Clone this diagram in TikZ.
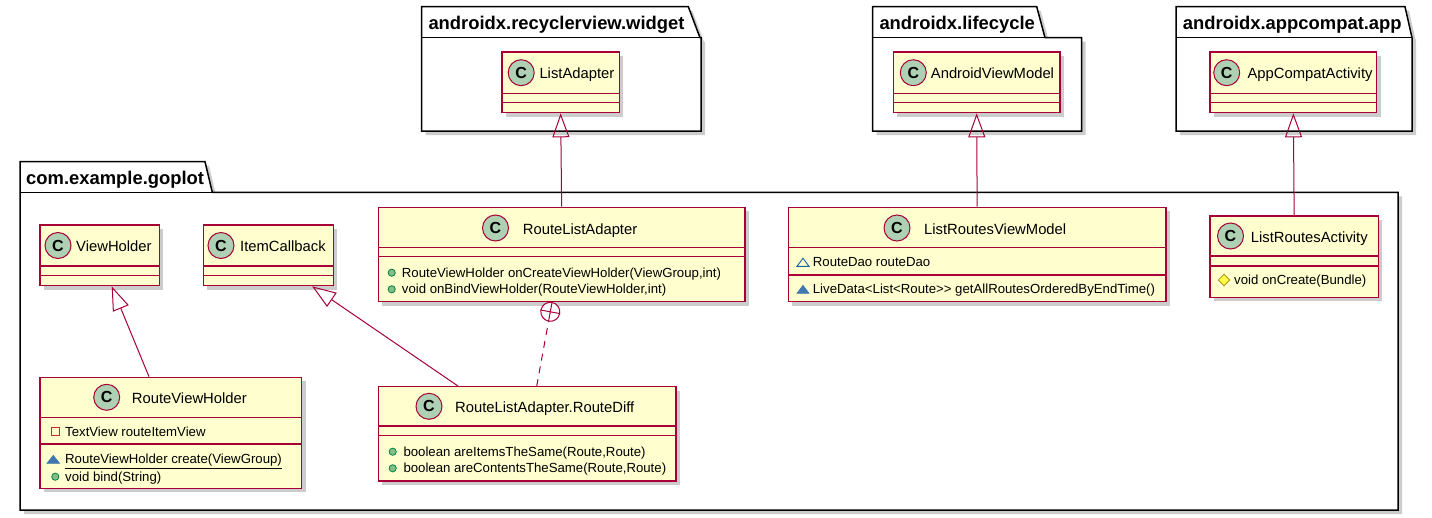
\documentclass[tikz,border=0pt]{standalone}
\usepackage{fontspec}
\setmainfont{Liberation Sans}
\usetikzlibrary{arrows.meta,shadows,fit,calc}

\definecolor{umlred}{HTML}{A80036}
\definecolor{umlfill}{HTML}{FEFECE}
\definecolor{umlgreen}{HTML}{ADD1B2}
\definecolor{pubfill}{HTML}{84BE84}
\definecolor{pubdraw}{HTML}{038048}
\definecolor{privdraw}{HTML}{C82930}
\definecolor{pkgdraw}{HTML}{1963A0}
\definecolor{pkgfill}{HTML}{4177AF}
\definecolor{protfill}{HTML}{FFFF44}
\definecolor{protdraw}{HTML}{B38D22}

\tikzset{
  shade/.style={drop shadow={shadow xshift=4pt,shadow yshift=-4pt,opacity=.2,fill=black}},
  pkg/.style={draw=black,fill=white,line width=1.5pt,line join=miter,shade},
  pkglabel/.style={anchor=base west,inner sep=0pt,font=\bfseries\fontsize{18.4pt}{20pt}\selectfont},
  classbox/.style={draw=umlred,fill=umlfill,line width=1.2pt,inner sep=0pt,shade},
  sep/.style={draw=umlred,line width=1.1pt},
  cicon/.style={circle,draw=umlred,fill=umlgreen,line width=1pt,minimum size=26pt,inner sep=0pt,
    font=\bfseries\fontsize{16pt}{16pt}\selectfont},
  cname/.style={anchor=base west,inner sep=0pt,font=\fontsize{14.8pt}{17pt}\selectfont},
  member/.style={anchor=base west,inner sep=0pt,font=\fontsize{13.2pt}{15pt}\selectfont},
  pubicon/.style={fill=pubfill,draw=pubdraw,line width=.8pt},
  privicon/.style={draw=privdraw,line width=.9pt},
  pkgfield/.style={draw=pkgdraw,line width=.9pt,line join=miter},
  pkgmethod/.style={fill=pkgfill,draw=pkgfill,line width=.6pt},
  proticon/.style={fill=protfill,draw=protdraw,line width=.8pt},
  inherit/.style={draw=umlred,line width=1pt,-{Triangle[open,length=24pt,width=17pt,line width=1pt]}},
  nestcirc/.style={circle,draw=umlred,fill=white,line width=1pt,minimum size=19pt,inner sep=0pt},
  nested/.style={draw=umlred,line width=1pt,dash pattern=on 7pt off 6pt},
}

\begin{document}
\begin{tikzpicture}[x=1pt,y=-1pt]
\useasboundingbox (0,0) rectangle (1432,517);

% packages
\path[pkg] (421.7,6.7) -- (688.3,6.7) -- (700,37.7) -- (701,37.7) -- (701,131) -- (421.7,131) -- cycle;
\draw[black,line width=1.5pt] (421.7,37.7) -- (700,37.7);
\node[pkglabel] (p-rv) at (428.3,29.3) {androidx.recyclerview.widget};

\path[pkg] (872.7,6.7) -- (1036.7,6.7) -- (1045,37.7) -- (1081.7,37.7) -- (1081.7,131) -- (872.7,131) -- cycle;
\draw[black,line width=1.5pt] (872.7,37.7) -- (1045,37.7);
\node[pkglabel] (p-lc) at (879.3,29.3) {androidx.lifecycle};

\path[pkg] (1176,6.7) -- (1405,6.7) -- (1412,37.7) -- (1412,131) -- (1176,131) -- cycle;
\draw[black,line width=1.5pt] (1176,37.7) -- (1412,37.7);
\node[pkglabel] (p-ac) at (1182.7,29.3) {androidx.appcompat.app};

\path[pkg] (20,161.7) -- (205,161.7) -- (212.3,192.3) -- (1398,192.3) -- (1398,510) -- (20,510) -- cycle;
\draw[black,line width=1.5pt] (20,192.3) -- (212.3,192.3);
\node[pkglabel] (p-gp) at (26,184.3) {com.example.goplot};

% outside classes
\node[classbox,fit={(502,52) (619.3,112.7)}] (la) {};
\draw[sep] (la.west |- 0,93.3) -- (la.east |- 0,93.3) (la.west |- 0,102.3) -- (la.east |- 0,102.3);
\node[cicon] (la-c) at (521.2,72.7) {C};
\node[cname] (la-n) at (539.3,78.7) {ListAdapter};

\node[classbox,fit={(893.3,52) (1060,112.7)}] (avm) {};
\draw[sep] (avm.west |- 0,93.3) -- (avm.east |- 0,93.3) (avm.west |- 0,102.3) -- (avm.east |- 0,102.3);
\node[cicon] (avm-c) at (913.3,72.7) {C};
\node[cname] (avm-n) at (930.7,78.7) {AndroidViewModel};

\node[classbox,fit={(1210,52) (1376.7,112.7)}] (aca) {};
\draw[sep] (aca.west |- 0,93.3) -- (aca.east |- 0,93.3) (aca.west |- 0,102.3) -- (aca.east |- 0,102.3);
\node[cicon] (aca-c) at (1226.7,72.7) {C};
\node[cname] (aca-n) at (1247.3,78.7) {AppCompatActivity};

% com.example.goplot
\node[classbox,fit={(40,225) (159.3,285.7)}] (vh) {};
\draw[sep] (vh.west |- 0,266) -- (vh.east |- 0,266) (vh.west |- 0,275.7) -- (vh.east |- 0,275.7);
\node[cicon] (vh-c) at (58,245.5) {C};
\node[cname] (vh-n) at (76,251.5) {ViewHolder};

\node[classbox,fit={(203.3,225) (333.3,285.7)}] (ic) {};
\draw[sep] (ic.west |- 0,266) -- (ic.east |- 0,266) (ic.west |- 0,275.7) -- (ic.east |- 0,275.7);
\node[cicon] (ic-c) at (221,245.5) {C};
\node[cname] (ic-n) at (240,251.5) {ItemCallback};

\node[classbox,fit={(378.3,207.3) (745,301.7)}] (rla) {};
\draw[sep] (rla.west |- 0,247.3) -- (rla.east |- 0,247.3) (rla.west |- 0,256.7) -- (rla.east |- 0,256.7);
\node[cicon] (rla-c) at (495.5,228) {C};
\node[cname] (rla-n) at (522.7,234) {RouteListAdapter};
\fill[pubicon] (391.7,272.7) circle (3.6pt);
\node[member] (rla-m1) at (401.7,277.3) {RouteViewHolder onCreateViewHolder(ViewGroup,int)};
\fill[pubicon] (391.7,289.3) circle (3.6pt);
\node[member] (rla-m2) at (401.7,293.9) {void onBindViewHolder(RouteViewHolder,int)};

\node[classbox,fit={(788.3,207.3) (1166,301.7)}] (lrvm) {};
\draw[sep] (lrvm.west |- 0,247.3) -- (lrvm.east |- 0,247.3) (lrvm.west |- 0,275) -- (lrvm.east |- 0,275);
\node[cicon] (lrvm-c) at (897,228) {C};
\node[cname] (lrvm-n) at (924,234) {ListRoutesViewModel};
\draw[pkgfield] (797,266.3) -- (809,266.3) -- (803,258.3) -- cycle;
\node[member] (lrvm-f1) at (812.7,266.9) {RouteDao routeDao};
\filldraw[pkgmethod] (797,293.3) -- (809,293.3) -- (803,285.3) -- cycle;
\node[member] (lrvm-m1) at (812.7,293.9) {LiveData<List<Route>{}> getAllRoutesOrderedByEndTime()};

\node[classbox,fit={(1210,216) (1378.3,297.3)}] (lra) {};
\draw[sep] (lra.west |- 0,256) -- (lra.east |- 0,256) (lra.west |- 0,266) -- (lra.east |- 0,266);
\node[cicon] (lra-c) at (1230.5,236) {C};
\node[cname] (lra-n) at (1250.7,242) {ListRoutesActivity};
\filldraw[proticon] (1218.3,280) -- (1224,274.3) -- (1229.7,280) -- (1224,285.7) -- cycle;
\node[member] (lra-m1) at (1234,284.6) {void onCreate(Bundle)};

\node[classbox,fit={(40,377.3) (301.7,488.3)}] (rvh) {};
\draw[sep] (rvh.west |- 0,417.3) -- (rvh.east |- 0,417.3) (rvh.west |- 0,444) -- (rvh.east |- 0,444);
\node[cicon] (rvh-c) at (106.7,397.3) {C};
\node[cname] (rvh-n) at (131.7,403.3) {RouteViewHolder};
\draw[privicon] (51.6,427.5) rectangle (59.9,435.8);
\node[member] (rvh-f1) at (65,436.3) {TextView routeItemView};
\filldraw[pkgmethod] (47,463.3) -- (59.6,463.3) -- (53.3,455.3) -- cycle;
\node[member] (rvh-m1) at (65,463.9) {\underline{RouteViewHolder create(ViewGroup)}};
\fill[pubicon] (55.3,476.7) circle (3.6pt);
\node[member] (rvh-m2) at (65,481.3) {void bind(String)};

\node[classbox,fit={(378.3,386.7) (676,481)}] (rd) {};
\draw[sep] (rd.west |- 0,426) -- (rd.east |- 0,426) (rd.west |- 0,435.7) -- (rd.east |- 0,435.7);
\node[cicon] (rd-c) at (429,406.3) {C};
\node[cname] (rd-n) at (455,412.3) {RouteListAdapter.RouteDiff};
\fill[pubicon] (392.7,451.7) circle (3.6pt);
\node[member] (rd-m1) at (403.3,456.3) {boolean areItemsTheSame(Route,Route)};
\fill[pubicon] (392.7,468.3) circle (3.6pt);
\node[member] (rd-m2) at (403.3,472.9) {boolean areContentsTheSame(Route,Route)};

% relations
\draw[inherit] (rla.north) -- (la.south);
\draw[inherit] (lrvm.north) -- (avm.south);
\draw[inherit] (lra.north) -- (aca.south);
\draw[inherit] ($(rvh.north west)!0.417!(rvh.north east)$) -- ($(vh.south west)!0.6!(vh.south east)$);
\draw[inherit] ($(rd.north west)!0.269!(rd.north east)$) -- ($(ic.south west)!0.834!(ic.south east)$);
\node[nestcirc,rotate=-10.5] (nest) at (550.3,311.8) {};
\draw[umlred,line width=1pt] (nest.north) -- (nest.south) (nest.west) -- (nest.east);
\draw[nested] ($(rd.north west)!0.532!(rd.north east)$) -- (nest.south);
\end{tikzpicture}
\end{document}
